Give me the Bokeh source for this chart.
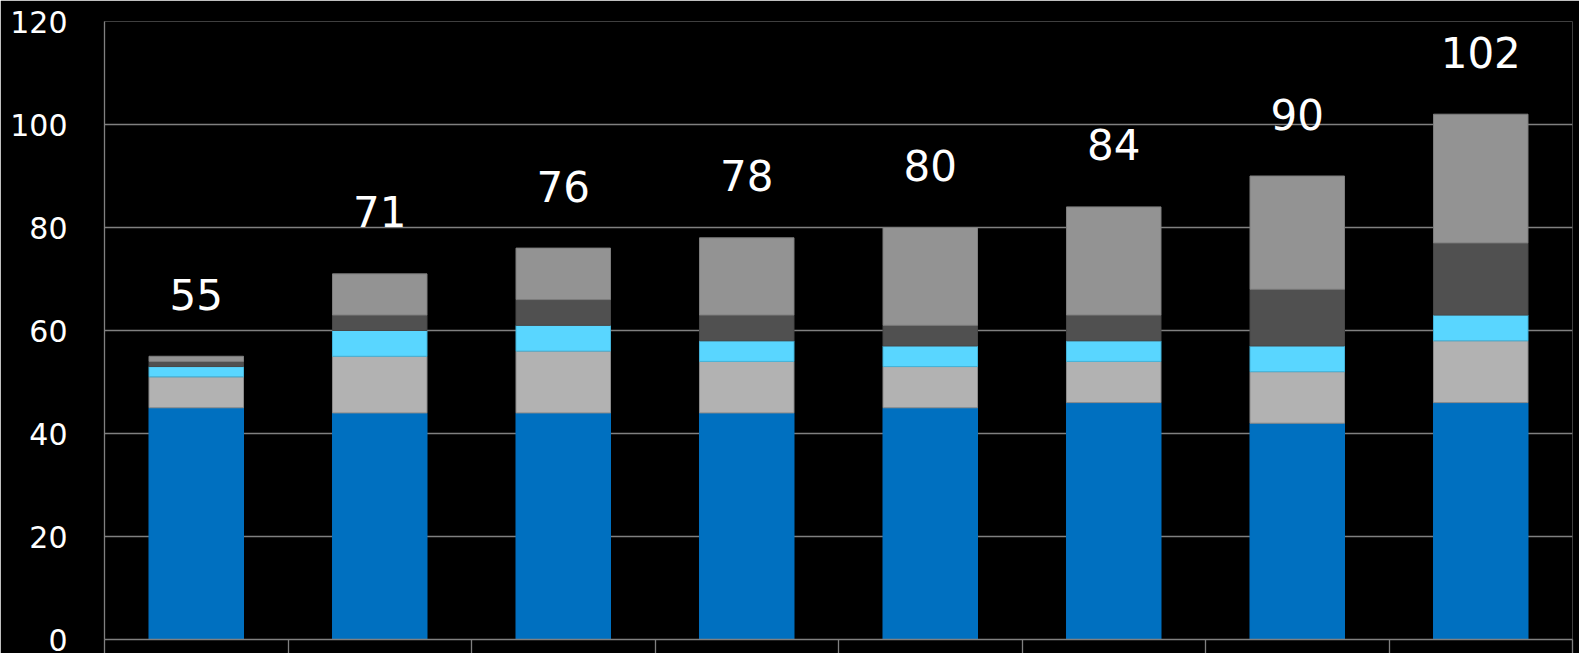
from bokeh.plotting import figure
from bokeh.models import ColumnDataSource, Range1d, FixedTicker
from bokeh.core.properties import value
from bokeh.embed import file_html
from bokeh.resources import INLINE

# Stacked components per bar (bottom to top)
seg_base = [45, 44, 44, 44, 45, 46, 42, 46]
seg_second = [6, 11, 12, 10, 8, 8, 10, 12]
seg_third = [2, 5, 5, 4, 4, 4, 5, 5]
seg_fourth = [1, 3, 5, 5, 4, 5, 11, 14]
seg_top = [1, 8, 10, 15, 19, 21, 22, 25]
totals = [55, 71, 76, 78, 80, 84, 90, 102]
y_ticks = [0, 20, 40, 60, 80, 100, 120]

n = len(totals)
xs = [i + 0.5 for i in range(n)]

stack_keys = ["seg_base", "seg_second", "seg_third", "seg_fourth", "seg_top"]
fill_colors = ["#0070C0", "#B2B2B2", "#59D6FF", "#505050", "#939393"]
edge_colors = ["#0070C0", "#8C8C8C", "#45B4DA", "#474747", "#7E7E7E"]

src = ColumnDataSource(dict(
    x=xs,
    seg_base=seg_base,
    seg_second=seg_second,
    seg_third=seg_third,
    seg_fourth=seg_fourth,
    seg_top=seg_top,
))
label_src = ColumnDataSource(dict(x=xs, y=totals, txt=[str(t) for t in totals]))

p = figure(
    width=1579, height=653,
    x_range=Range1d(0, n), y_range=Range1d(0, 120),
    output_backend="svg", toolbar_location=None,
    background_fill_color="black", border_fill_color="black",
    min_border_left=104, min_border_right=7,
    min_border_top=21, min_border_bottom=13,
)
p.outline_line_color = None

p.vbar_stack(stack_keys, x="x", width=0.515, source=src,
             fill_color=fill_colors, line_color=edge_colors, line_width=1)

p.text(x="x", y="y", text="txt", source=label_src,
       text_align="center", text_baseline="middle", y_offset=-62,
       text_color="white", text_font=value("DejaVu Sans"),
       text_font_size="42px")

# y axis: labels only, gray axis line
p.yaxis.ticker = FixedTicker(ticks=y_ticks)
p.yaxis.axis_line_color = "#808080"
p.yaxis.axis_line_width = 1.3
p.yaxis.major_tick_line_color = None
p.yaxis.minor_tick_line_color = None
p.yaxis.major_label_text_color = "white"
p.yaxis.major_label_text_font = "DejaVu Sans"
p.yaxis.major_label_text_font_size = "30px"
p.yaxis.major_label_standoff = 31

# x axis: tick marks between the bars, no tick labels
boundaries = list(range(n + 1))
p.xaxis.ticker = FixedTicker(ticks=boundaries)
p.xaxis.major_label_overrides = {b: "" for b in boundaries}
p.xaxis.axis_line_color = "#808080"
p.xaxis.axis_line_width = 1.3
p.xaxis.major_tick_line_color = "#808080"
p.xaxis.major_tick_line_width = 1.3
p.xaxis.major_tick_in = 0
p.xaxis.major_tick_out = 14
p.xaxis.minor_tick_line_color = None
p.xaxis.major_label_text_font_size = "1px"
p.xaxis.major_label_standoff = 0

p.xgrid.grid_line_color = None
p.ygrid.ticker = FixedTicker(ticks=y_ticks)
p.ygrid.grid_line_color = "#808080"
p.ygrid.grid_line_width = 1.3

open("out.html", "w").write(file_html(p, INLINE))
